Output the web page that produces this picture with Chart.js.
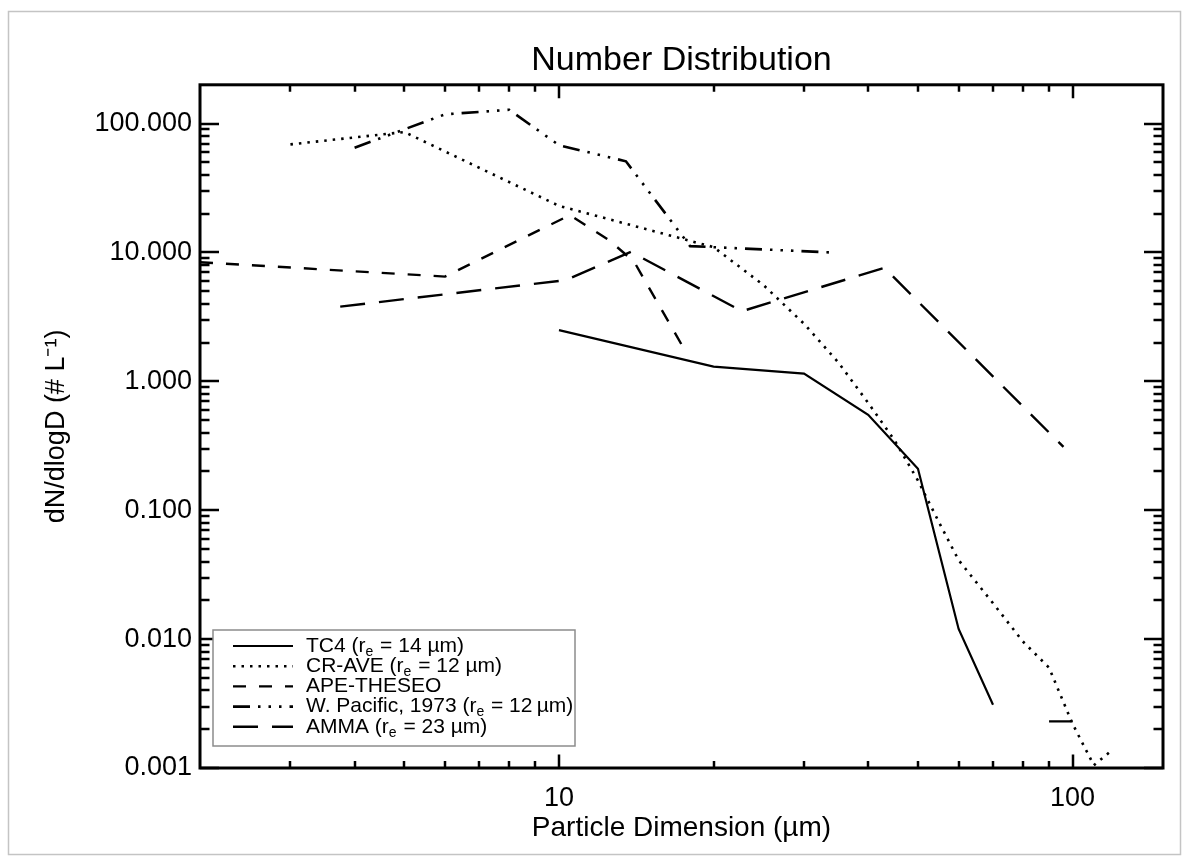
<!DOCTYPE html>
<html>
<head>
<meta charset="utf-8">
<script src="https://cdn.jsdelivr.net/npm/chart.js@4.4.0/dist/chart.umd.min.js"></script>
<style>
  html, body { margin: 0; padding: 0; background: #fff; }
  #wrap { position: relative; width: 1189px; height: 863px; }
</style>
</head>
<body>
<div id="wrap"><canvas id="chart" width="1189" height="863"></canvas></div>
<script>
// ── DATA ──────────────────────────────────────────────────────────
// particle dimension D (µm) and dN/dlogD (# L^-1) per campaign
const tc4D    = [10, 20, 30, 40, 50, 60, 70, 80, 90, 100];
const tc4N    = [2.5, 1.3, 1.15, 0.55, 0.21, 0.012, 0.0031, null, 0.0023, 0.0023];

const craveD  = [3, 5, 10, 20, 25, 30, 35, 40, 45, 50, 55, 60, 70, 80, 90, 100, 110, 120];
const craveN  = [69, 86, 23, 11, 5.6, 2.8, 1.4, 0.68, 0.35, 0.17, 0.08, 0.041, 0.019, 0.0096, 0.006, 0.0022, 0.00105, 0.0014];

const apeD    = [2, 6, 10.5, 12.5, 14, 17.5];
const apeN    = [8.4, 6.5, 19.5, 12.5, 8.5, 1.8];

const wpacD   = [4, 6, 8, 10, 13.5, 18, 34];
const wpacN   = [65, 118, 128, 68, 51, 11.2, 10];

const ammaD   = [3.75, 10.3, 13.8, 22.7, 43, 96];
const ammaN   = [3.8, 6.1, 10.1, 3.5, 7.6, 0.31];

const seriesLabels = [
  'TC4 (r_e = 14 µm)',
  'CR-AVE (r_e = 12 µm)',
  'APE-THESEO',
  'W. Pacific, 1973 (r_e = 12\u2009µm)',
  'AMMA (r_e = 23 µm)',
];

const xTickVals   = [10, 100];
const xTickLabels = ['10', '100'];
const yTickVals   = [0.001, 0.01, 0.1, 1, 10, 100];
const yTickLabels = ['0.001', '0.010', '0.100', '1.000', '10.000', '100.000'];

// ── STYLE ─────────────────────────────────────────────────────────
const FONT = "'Liberation Sans', Arial, Helvetica, sans-serif";
const INK  = '#000';

const pts = (xs, ys) => xs.map((x, i) => ({ x, y: ys[i] }));

function lineSet(label, data, dash, width) {
  return {
    label, data,
    borderColor: INK,
    borderWidth: width,
    borderDash: dash,
    borderCapStyle: 'butt',
    pointRadius: 0,
    fill: false,
    tension: 0,
    spanGaps: false,
  };
}

// IDL-style frame: inward major/minor ticks on all four sides
const idlAxes = {
  id: 'idlAxes',
  afterDatasetsDraw(chart) {
    const { ctx, chartArea: a, scales: { x, y } } = chart;
    ctx.save();
    ctx.strokeStyle = INK;
    ctx.lineWidth = 2.5;
    ctx.setLineDash([]);

    const minors = (lo, hi) => {
      const out = [];
      for (let d = 1e-4; d <= 1e3; d *= 10) {
        for (let k = 2; k <= 9; k++) {
          const v = +(d * k).toPrecision(3);
          if (v > lo && v < hi) out.push(v);
        }
      }
      return out;
    };

    const xLong = 13.5, xShort = 7;
    const yLong = 19,   yShort = 9.5;

    const drawX = (v, len) => {
      const px = Math.round(x.getPixelForValue(v));
      ctx.beginPath();
      ctx.moveTo(px, a.bottom); ctx.lineTo(px, a.bottom - len);
      ctx.moveTo(px, a.top);    ctx.lineTo(px, a.top + len);
      ctx.stroke();
    };
    const drawY = (v, len) => {
      const py = Math.round(y.getPixelForValue(v));
      ctx.beginPath();
      ctx.moveTo(a.left, py);  ctx.lineTo(a.left + len, py);
      ctx.moveTo(a.right, py); ctx.lineTo(a.right - len, py);
      ctx.stroke();
    };

    minors(x.min, x.max).forEach(v => drawX(v, xShort));
    xTickVals.forEach(v => drawX(v, xLong));
    minors(y.min, y.max).forEach(v => drawY(v, yShort));
    yTickVals.forEach(v => drawY(v, yLong));

    ctx.lineWidth = 3;
    ctx.strokeRect(a.left, a.top, a.right - a.left, a.bottom - a.top);
    ctx.restore();
  },
};

// boxed legend in the lower-left corner, with subscript e
const boxLegend = {
  id: 'boxLegend',
  afterDraw(chart) {
    const { ctx, chartArea: a } = chart;
    const bx = a.left + 13, by = a.bottom - 138, bw = 362, bh = 116;
    ctx.save();
    ctx.fillStyle = '#fff';
    ctx.fillRect(bx, by, bw, bh);
    ctx.strokeStyle = '#8c8c8c';
    ctx.lineWidth = 1.5;
    ctx.setLineDash([]);
    ctx.strokeRect(bx, by, bw, bh);

    chart.data.datasets.forEach((ds, i) => {
      const cy = by + 16 + i * 20.2;
      ctx.strokeStyle = INK;
      ctx.lineWidth = ds.borderWidth;
      ctx.setLineDash(ds.borderDash || []);
      ctx.beginPath();
      ctx.moveTo(bx + 20, cy);
      ctx.lineTo(bx + 80, cy);
      ctx.stroke();
      ctx.setLineDash([]);

      ctx.fillStyle = INK;
      ctx.textBaseline = 'middle';
      let tx = bx + 93;
      ds.label.split('_e').forEach((part, j) => {
        if (j > 0) {
          ctx.font = `14px ${FONT}`;
          ctx.fillText('e', tx, cy + 6);
          tx += ctx.measureText('e').width + 1;
        }
        ctx.font = `21px ${FONT}`;
        ctx.fillText(part, tx, cy);
        tx += ctx.measureText(part).width;
      });
    });
    ctx.restore();
  },
};

// white page with a thin grey frame round the figure
const pageFrame = {
  id: 'pageFrame',
  beforeDraw(chart) {
    const { ctx, width, height } = chart;
    ctx.save();
    ctx.fillStyle = '#fff';
    ctx.fillRect(0, 0, width, height);
    ctx.strokeStyle = '#c4c4c4';
    ctx.lineWidth = 1.5;
    ctx.strokeRect(8.5, 11.5, width - 17, height - 20);
    ctx.restore();
  },
};

new Chart(document.getElementById('chart'), {
  type: 'line',
  data: {
    datasets: [
      lineSet(seriesLabels[0], pts(tc4D, tc4N),     [],                          2.2),
      lineSet(seriesLabels[1], pts(craveD, craveN), [2.5, 6],                    2.6),
      lineSet(seriesLabels[2], pts(apeD, apeN),     [13, 13],                    2.4),
      lineSet(seriesLabels[3], pts(wpacD, wpacN),   [17, 8, 2.5, 8, 2.5, 8, 2.5, 8], 2.6),
      lineSet(seriesLabels[4], pts(ammaD, ammaN),   [25, 14],                    2.4),
    ],
  },
  options: {
    responsive: false,
    animation: false,
    devicePixelRatio: 1,
    layout: { padding: { left: 0, right: 26, top: 0, bottom: 0 } },
    plugins: {
      legend:  { display: false },
      tooltip: { enabled: false },
      title: {
        display: true,
        fullSize: false,
        text: 'Number Distribution',
        color: INK,
        font: { family: FONT, size: 34, weight: 'normal' },
        padding: { top: 40, bottom: 4 },
      },
    },
    scales: {
      x: {
        type: 'logarithmic',
        min: 2, max: 150,
        afterBuildTicks: s => { s.ticks = xTickVals.map(v => ({ value: v })); },
        afterFit: s => { s.height = 95; },
        grid:   { display: false, drawTicks: false },
        border: { display: false },
        ticks: {
          callback: (v, i) => xTickLabels[i],
          color: INK,
          font: { family: FONT, size: 27 },
          padding: 14,
          maxRotation: 0,
          autoSkip: false,
        },
        title: {
          display: true,
          text: 'Particle Dimension (µm)',
          color: INK,
          font: { family: FONT, size: 28 },
          padding: { top: 0, bottom: 18 },
        },
      },
      y: {
        type: 'logarithmic',
        min: 0.001, max: 200,
        afterBuildTicks: s => { s.ticks = yTickVals.map(v => ({ value: v })); },
        afterFit: s => { s.width = 200; },
        grid:   { display: false, drawTicks: false },
        border: { display: false },
        ticks: {
          callback: (v, i) => yTickLabels[i],
          color: INK,
          font: { family: FONT, size: 27 },
          padding: 8,
          autoSkip: false,
        },
        title: {
          display: true,
          text: 'dN/dlogD (# L\u207B\u00B9)',
          color: INK,
          font: { family: FONT, size: 27 },
          padding: { top: 40, bottom: 0 },
        },
      },
    },
  },
  plugins: [pageFrame, idlAxes, boxLegend],
});
</script>
</body>
</html>
